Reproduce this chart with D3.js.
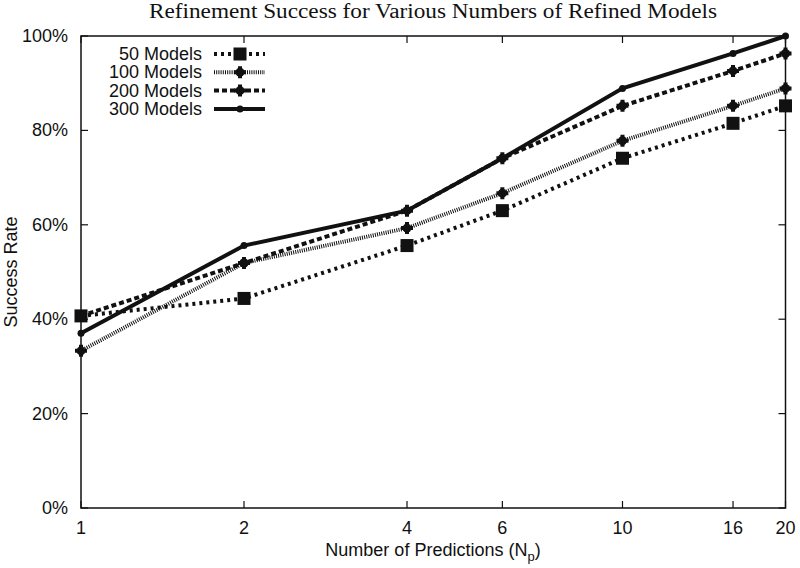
<!DOCTYPE html>
<html>
<head>
<meta charset="utf-8">
<script src="https://cdn.jsdelivr.net/npm/d3@7"></script>
<style>
body { margin: 0; background: #fff; }
svg text { font-family: "Liberation Sans", Arial, sans-serif; fill: #111; }
.title { font-family: "Liberation Serif", "Times New Roman", serif; }
</style>
</head>
<body>
<div id="chart"></div>
<script>
var width = 800,
	height = 568;

var margin = {left: 81, right: 14, top: 36, bottom: 60};

// x values (number of predictions) and success rates per series
var predictions = [1, 2, 4, 6, 10, 16, 20];
var yTicks = [0, 20, 40, 60, 80, 100];

var models50 = [40.7, 44.4, 55.6, 63.0, 74.1, 81.5, 85.2];
var models100 = [33.3, 51.9, 59.3, 66.7, 77.8, 85.2, 88.9];
var models200 = [40.7, 51.9, 63.0, 74.1, 85.2, 92.6, 96.3];
var models300 = [37.0, 55.6, 63.0, 74.1, 88.9, 96.3, 100.0];

var seriesNames = ["50 Models", "100 Models", "200 Models", "300 Models"];

var series = [
	{name: seriesNames[0], values: models50, dash: "3,4", marker: "square"},
	{name: seriesNames[1], values: models100, dash: "1,1.2", marker: "star"},
	{name: seriesNames[2], values: models200, dash: "5,3", marker: "star"},
	{name: seriesNames[3], values: models300, dash: null, marker: "dot"}
];

var svg = d3.select("#chart").append("svg")
	.attr("width", width)
	.attr("height", height);

var x = d3.scaleLog()
	.domain([1, 20])
	.range([margin.left, width - margin.right - 0.5]);

var y = d3.scaleLinear()
	.domain([0, 100])
	.range([height - margin.bottom, margin.top]);

var x0 = x.range()[0], x1 = x.range()[1],
	y0 = y.range()[0], y1 = y.range()[1];

// inside ticks on all four sides
var tickLen = 7;
var ticks = svg.append("g").attr("stroke", "#111").attr("stroke-width", 1.2);
predictions.forEach(function(p) {
	ticks.append("line").attr("x1", x(p)).attr("x2", x(p)).attr("y1", y0).attr("y2", y0 - tickLen);
	ticks.append("line").attr("x1", x(p)).attr("x2", x(p)).attr("y1", y1).attr("y2", y1 + tickLen);
});
yTicks.forEach(function(t) {
	ticks.append("line").attr("x1", x0).attr("x2", x0 + tickLen).attr("y1", y(t)).attr("y2", y(t));
	ticks.append("line").attr("x1", x1).attr("x2", x1 - tickLen).attr("y1", y(t)).attr("y2", y(t));
});

// frame
svg.append("rect")
	.attr("x", x0).attr("y", y1)
	.attr("width", x1 - x0).attr("height", y0 - y1)
	.attr("fill", "none").attr("stroke", "#111").attr("stroke-width", 1.5);

// tick labels
svg.selectAll(".xlab").data(predictions).enter().append("text")
	.attr("class", "xlab")
	.attr("x", function(d) { return x(d); })
	.attr("y", y0 + 26)
	.attr("text-anchor", "middle")
	.style("font-size", "18px")
	.text(function(d) { return d; });

svg.selectAll(".ylab").data(yTicks).enter().append("text")
	.attr("class", "ylab")
	.attr("x", x0 - 13)
	.attr("y", function(d) { return y(d) + 6; })
	.attr("text-anchor", "end")
	.style("font-size", "18px")
	.text(function(d) { return d + "%"; });

// axis titles
var xt = svg.append("text")
	.attr("x", 433).attr("y", 556)
	.attr("text-anchor", "middle")
	.style("font-size", "18px")
	.text("Number of Predictions (N");
xt.append("tspan").attr("dy", 5).style("font-size", "13px").text("p");
xt.append("tspan").attr("dy", -5).text(")");

svg.append("text")
	.attr("transform", "translate(17," + ((y0 + y1) / 2) + ") rotate(-90)")
	.attr("text-anchor", "middle")
	.style("font-size", "18px")
	.text("Success Rate");

svg.append("text")
	.attr("class", "title")
	.attr("x", 149).attr("y", 18)
	.attr("textLength", 568)
	.attr("lengthAdjust", "spacingAndGlyphs")
	.style("font-size", "20px")
	.text("Refinement Success for Various Numbers of Refined Models");

var line = d3.line()
	.x(function(d, i) { return x(predictions[i]); })
	.y(function(d) { return y(d); });

function drawMarker(g, kind, cx, cy) {
	if (kind === "square") {
		g.append("rect").attr("x", cx - 6.5).attr("y", cy - 6.5).attr("width", 13).attr("height", 13).attr("fill", "#111");
	} else if (kind === "star") {
		g.append("path")
			.attr("transform", "translate(" + cx + "," + cy + ")")
			.attr("d", d3.symbol().type(d3.symbolCross).size(80)())
			.attr("fill", "#111");
		g.append("circle").attr("cx", cx).attr("cy", cy).attr("r", 4.5).attr("fill", "#111");
	} else {
		g.append("circle").attr("cx", cx).attr("cy", cy).attr("r", 3.5).attr("fill", "#111");
	}
}

series.forEach(function(s) {
	var g = svg.append("g");
	g.append("path")
		.datum(s.values)
		.attr("d", line)
		.attr("fill", "none")
		.attr("stroke", "#111")
		.attr("stroke-width", 4)
		.attr("stroke-dasharray", s.dash);
	s.values.forEach(function(v, i) {
		drawMarker(g, s.marker, x(predictions[i]), y(v));
	});
});

// legend
var legend = svg.append("g");
series.forEach(function(s, i) {
	var ly = 54 + i * 18.3;
	legend.append("text")
		.attr("x", 202).attr("y", ly + 6)
		.attr("text-anchor", "end")
		.style("font-size", "18px")
		.text(s.name);
	legend.append("line")
		.attr("x1", 214).attr("x2", 265)
		.attr("y1", ly).attr("y2", ly)
		.attr("stroke", "#111").attr("stroke-width", 4)
		.attr("stroke-dasharray", s.dash);
	drawMarker(legend, s.marker, 240, ly);
});
</script>
</body>
</html>
